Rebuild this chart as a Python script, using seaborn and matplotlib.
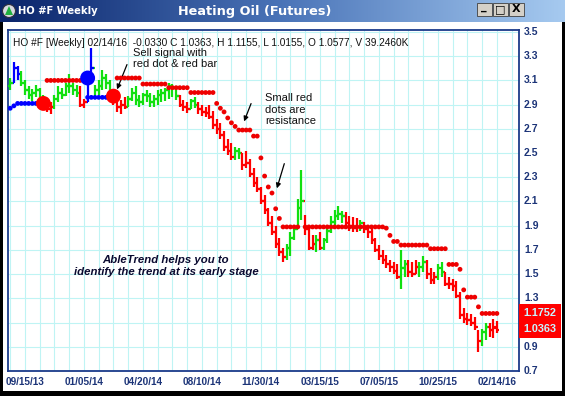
import numpy as np
import pandas as pd
import matplotlib
matplotlib.use("Agg")
import matplotlib.pyplot as plt
from matplotlib.patches import Rectangle, Circle, Polygon
from matplotlib.colors import LinearSegmentedColormap
import seaborn as sns

sns.set_style("white")
plt.rcParams['font.family'] = ['Liberation Sans', 'DejaVu Sans']

# ---------------- data (weekly bars) ----------------
high = [3.12, 3.25, 3.22, 3.18, 3.10, 3.05, 3.03, 3.06, 3.04, 2.98,
        2.95, 2.92, 2.98, 3.05, 3.04, 3.08, 3.15, 3.08, 3.06, 3.05,
        2.95, 3.12, 3.37, 3.06, 3.10, 3.19, 3.15, 3.10, 3.00, 2.96,
        2.94, 2.96, 2.97, 3.04, 3.05, 2.98, 3.00, 3.02, 3.00, 2.98,
        3.02, 3.03, 3.04, 3.08, 3.07, 3.05, 2.98, 2.94, 2.92, 2.95,
        2.96, 2.92, 2.90, 2.88, 2.90, 2.85, 2.78, 2.75, 2.68, 2.62,
        2.58, 2.55, 2.54, 2.50, 2.52, 2.45, 2.38, 2.30, 2.22, 2.15,
        2.05, 1.98, 1.90, 1.80, 1.72, 1.75, 1.85, 1.90, 2.12, 2.36,
        1.99, 1.88, 1.82, 1.82, 1.85, 1.80, 1.90, 1.98, 2.03, 2.06,
        2.02, 2.01, 1.98, 1.97, 1.96, 1.95, 1.93, 1.90, 1.88, 1.80,
        1.74, 1.70, 1.66, 1.62, 1.60, 1.58, 1.70, 1.62, 1.62, 1.60,
        1.62, 1.60, 1.65, 1.62, 1.55, 1.52, 1.58, 1.60, 1.52, 1.48,
        1.46, 1.44, 1.35, 1.22, 1.18, 1.17, 1.15, 1.04, 1.05, 1.10,
        1.10, 1.13, 1.1155]
low = [3.02, 3.08, 3.10, 3.05, 2.98, 2.95, 2.93, 2.96, 2.93, 2.88,
       2.84, 2.82, 2.86, 2.92, 2.95, 2.97, 3.00, 2.98, 2.96, 2.88,
       2.87, 2.92, 3.08, 2.96, 2.98, 3.02, 3.03, 2.98, 2.90, 2.84,
       2.82, 2.86, 2.88, 2.93, 2.90, 2.88, 2.90, 2.92, 2.88, 2.88,
       2.90, 2.92, 2.93, 2.95, 2.96, 2.94, 2.88, 2.85, 2.83, 2.86,
       2.87, 2.82, 2.81, 2.80, 2.78, 2.70, 2.66, 2.62, 2.52, 2.48,
       2.44, 2.44, 2.45, 2.36, 2.38, 2.30, 2.22, 2.18, 2.08, 2.00,
       1.90, 1.82, 1.72, 1.65, 1.60, 1.62, 1.65, 1.78, 1.88, 1.95,
       1.82, 1.70, 1.70, 1.68, 1.70, 1.70, 1.76, 1.84, 1.90, 1.95,
       1.92, 1.88, 1.86, 1.85, 1.85, 1.86, 1.84, 1.80, 1.75, 1.68,
       1.62, 1.58, 1.55, 1.52, 1.50, 1.46, 1.38, 1.48, 1.48, 1.48,
       1.50, 1.48, 1.52, 1.46, 1.42, 1.42, 1.45, 1.48, 1.40, 1.38,
       1.36, 1.30, 1.13, 1.10, 1.08, 1.07, 1.04, 0.86, 0.91, 0.96,
       0.98, 0.97, 1.0155]
close = [3.08, 3.20, 3.15, 3.08, 3.02, 2.98, 3.00, 3.02, 2.95, 2.92,
         2.86, 2.88, 2.95, 3.00, 2.98, 3.05, 3.05, 3.02, 3.00, 2.90,
         2.92, 3.10, 3.20, 3.02, 3.05, 3.12, 3.08, 3.00, 2.94, 2.88,
         2.90, 2.88, 2.95, 3.00, 2.94, 2.92, 2.98, 2.97, 2.92, 2.95,
         2.98, 3.00, 3.02, 3.05, 3.04, 2.97, 2.90, 2.88, 2.86, 2.93,
         2.90, 2.86, 2.84, 2.83, 2.80, 2.73, 2.70, 2.65, 2.55, 2.52,
         2.47, 2.52, 2.50, 2.40, 2.42, 2.33, 2.25, 2.20, 2.10, 2.03,
         1.92, 1.85, 1.75, 1.68, 1.64, 1.72, 1.80, 1.87, 2.05, 2.10,
         1.87, 1.72, 1.75, 1.78, 1.72, 1.78, 1.86, 1.93, 1.98, 2.00,
         1.98, 1.92, 1.90, 1.88, 1.89, 1.92, 1.87, 1.85, 1.78, 1.70,
         1.65, 1.62, 1.58, 1.56, 1.53, 1.48, 1.55, 1.58, 1.52, 1.50,
         1.56, 1.56, 1.60, 1.50, 1.45, 1.48, 1.55, 1.52, 1.42, 1.42,
         1.40, 1.32, 1.16, 1.13, 1.12, 1.10, 1.06, 0.95, 1.02, 1.06,
         1.04, 1.06, 1.0363]
trend = list("gbbggggggg" "rrgggggggr" "rbbgggggrr" "rrgggggggg"
             "ggggggrrrg" "grrrrrrrrr" "rggrrrrrrr" "rrrrrggggg"
             "rrrgrggggg" "grrrrgrrrr" "rrrrrrggrr" "rggrrrggrr"
             "rrrrrrrrgg" "rrr")
nan = np.nan
resist = ([nan] * 10 + [3.10] * 10 + [nan] * 9 + [3.12] * 7 + [3.07] * 7
          + [3.04] * 6 + [3.00] * 7
          + [2.91, 2.87, 2.84, 2.79, 2.75, 2.72, 2.69, 2.69, 2.69, 2.69,
             2.64, 2.64, 2.46, 2.31, 2.22, 2.17, 2.04, 1.96]
          + [1.89] * 5 + [nan] + [1.89] * 22
          + [1.88, 1.82, 1.77, 1.77] + [1.74] * 8 + [1.71] * 5
          + [1.58] * 3 + [1.54, 1.37, 1.31, 1.31, 1.31, 1.23] + [1.1752] * 5)
support = ([2.87, 2.89] + [2.91] * 7 + [nan] * 12 + [2.96] * 7
           + [nan] * (133 - 28))
sig_idx = [9, 21, 28]
sig_val = [2.91, 3.12, 2.97]
sig_kind = ["sell", "buy", "sell"]
tick_pos = [4, 20, 36, 52, 68, 84, 100, 116, 132]
tick_lbl = ["09/15/13", "01/05/14", "04/20/14", "08/10/14", "11/30/14",
            "03/15/15", "07/05/15", "10/25/15", "02/14/16"]
ytick_vals = [0.7, 0.9, 1.1, 1.3, 1.5, 1.7, 1.9, 2.1, 2.3, 2.5, 2.7,
              2.9, 3.1, 3.3, 3.5]
last_vals = ["1.1752", "1.0363"]
first_open = 3.05
last_open = 1.0577

n = len(close)
opens = [first_open] + close[:-1]
opens[-1] = last_open
df = pd.DataFrame({"i": np.arange(n), "open": opens, "high": high,
                   "low": low, "close": close, "trend": trend[:n],
                   "resist": resist[:n], "support": support[:n]})
cmap = {"g": "#10e010", "r": "#ff0000", "b": "#0000ff"}
df["col"] = df["trend"].map(cmap)

W, H = 565, 396
fig = plt.figure(figsize=(W / 100, H / 100), dpi=100)
fig.patch.set_facecolor("white")

def fx(px):
    return px / W

def fy(py):
    return 1 - py / H

# plot axes
ax = fig.add_axes([fx(8), fy(371), fx(519) - fx(8), fy(30) - fy(371)])
ax.set_xlim(-0.6, 138)
ax.set_ylim(0.7, 3.5165)
ax.set_facecolor("white")
for v in np.arange(0, 137, 4):
    ax.axvline(v, color="#bff4f4", lw=0.8, zorder=0)
for v in ytick_vals:
    ax.axhline(v, color="#bff4f4", lw=0.8, zorder=0)

# OHLC bars
ax.vlines(df["i"], df["low"], df["high"], colors=df["col"], lw=1.6, zorder=3)
ax.hlines(df["open"], df["i"] - 0.7, df["i"], colors=df["col"], lw=1.6, zorder=3)
ax.hlines(df["close"], df["i"], df["i"] + 0.7, colors=df["col"], lw=1.6, zorder=3)

# trend dots
sns.scatterplot(data=df, x="i", y="resist", color="#ee0000", s=12,
                marker="o", edgecolor="none", ax=ax, zorder=4, legend=False)
sns.scatterplot(data=df, x="i", y="support", color="#0000ff", s=12,
                marker="o", edgecolor="none", ax=ax, zorder=4, legend=False)
sig = pd.DataFrame({"i": sig_idx, "v": sig_val, "k": sig_kind})
sns.scatterplot(data=sig, x="i", y="v", hue="k",
                palette={"sell": "#ff0000", "buy": "#0000ff"}, s=115,
                edgecolor="none", ax=ax, zorder=5, legend=False)

ax.set_xlabel("")
ax.set_ylabel("")
navy = "#1c3478"
for s in ax.spines.values():
    s.set_color("#1a3a8a")
    s.set_linewidth(1.3)
ax.set_xticks(np.arange(0, 137, 4))
ax.set_xticklabels([""] * len(np.arange(0, 137, 4)))
ax.tick_params(axis="x", direction="out", length=4, width=1, color="#1a3a8a")
ax.set_yticks([])
for p, l in zip(tick_pos, tick_lbl):
    ax.text(p, -0.018, l, transform=ax.get_xaxis_transform(), ha="center",
            va="top", fontsize=7.2, fontweight="bold", color=navy)
for v in ytick_vals:
    if abs(v - 1.1) < 1e-6:
        continue  # hidden behind the last-price box
    ax.text(1.01, v, f"{v:.1f}", transform=ax.get_yaxis_transform(),
            ha="left", va="center", fontsize=7.5, fontweight="bold",
            color=navy, clip_on=False)

def dx(px):
    return 4 + (px - 25) / 3.685

def dy(py):
    return 3.5 - (py - 32) / 121.07

ax.text(dx(13), dy(43), "HO #F [Weekly] 02/14/16  -0.0330 C 1.0363, H 1.1155, "
        "L 1.0155, O 1.0577, V 39.2460K", fontsize=7.3, color="#111111",
        ha="left", va="center")
ax.text(dx(133), dy(48), "Sell signal with\nred dot & red bar", fontsize=8,
        ha="left", va="top", linespacing=1.15, color="#111111")
ax.annotate("", xy=(dx(116), dy(92)), xytext=(dx(128), dy(62)),
            arrowprops=dict(arrowstyle="-|>", color="black", lw=0.9,
                            mutation_scale=7))
ax.text(dx(265), dy(93), "Small red\ndots are\nresistance", fontsize=8,
        ha="left", va="top", linespacing=1.2, color="#111111")
ax.annotate("", xy=(dx(243), dy(124)), xytext=(dx(252), dy(101)),
            arrowprops=dict(arrowstyle="-|>", color="black", lw=0.9,
                            mutation_scale=7))
ax.annotate("", xy=(dx(276), dy(191)), xytext=(dx(285), dy(161)),
            arrowprops=dict(arrowstyle="-|>", color="black", lw=0.9,
                            mutation_scale=7))
ax.text(dx(166), dy(266), "AbleTrend helps you to\nidentify the trend at its early stage",
        fontsize=8.2, fontweight="bold", fontstyle="italic", ha="center",
        va="center", linespacing=1.35, color="#0a0a30")

# last price box
fig.patches.append(Rectangle((fx(519), fy(338)), fx(561) - fx(519),
                             fy(304) - fy(338), transform=fig.transFigure,
                             facecolor="#ff0000", edgecolor="none", zorder=10))
fig.text(fx(540), fy(313.5), last_vals[0], ha="center", va="center",
         fontsize=7.8, fontweight="bold", color="#c8f4ff", zorder=11)
fig.text(fx(540), fy(329.5), last_vals[1], ha="center", va="center",
         fontsize=7.8, fontweight="bold", color="#c8f4ff", zorder=11)

# title bar
tax = fig.add_axes([0, fy(22), 1, fy(0) - fy(22)])
grad = np.linspace(0, 1, 256).reshape(1, -1)
tb = LinearSegmentedColormap.from_list("tb", ["#0a246a", "#4a74b8", "#a6caf0"])
tax.imshow(grad, aspect="auto", cmap=tb, extent=[0, W, 22, 0])
tax.set_xlim(0, W)
tax.set_ylim(22, 0)
tax.axis("off")
tax.add_patch(Circle((9, 11), 6.5, facecolor="#d8d8e0", edgecolor="#303040", lw=0.8))
tax.add_patch(Polygon([[5, 15], [9, 6], [13, 15]], closed=True,
                      facecolor="#20b040", edgecolor="none"))
tax.text(18, 11.5, "HO #F Weekly", color="white", fontsize=7.2,
         fontweight="bold", ha="left", va="center", family="DejaVu Sans")
tax.text(255, 11, "Heating Oil (Futures)", color="white", fontsize=9.3,
         fontweight="bold", ha="center", va="center", family="DejaVu Sans")
for bx, sym in [(477, "_"), (493, "□"), (509, "X")]:
    tax.add_patch(Rectangle((bx, 2.5), 14.5, 13.5, facecolor="#d4d0c8",
                            edgecolor="#404040", lw=0.6))
    tax.text(bx + 7.2, 9.5 if sym != "_" else 7, sym, ha="center", va="center",
             fontsize=8, fontweight="bold", color="black", family="DejaVu Sans")

# window frame
for rect in [(0, 22, 3, H - 22), (0, 391, W, 5), (562, 22, 3, H - 22)]:
    x0, y0, w, h = rect
    fig.patches.append(Rectangle((fx(x0), fy(y0 + h)), w / W, h / H,
                                 transform=fig.transFigure, facecolor="black",
                                 edgecolor="none", zorder=12))

fig.savefig("out.png", dpi=100)
